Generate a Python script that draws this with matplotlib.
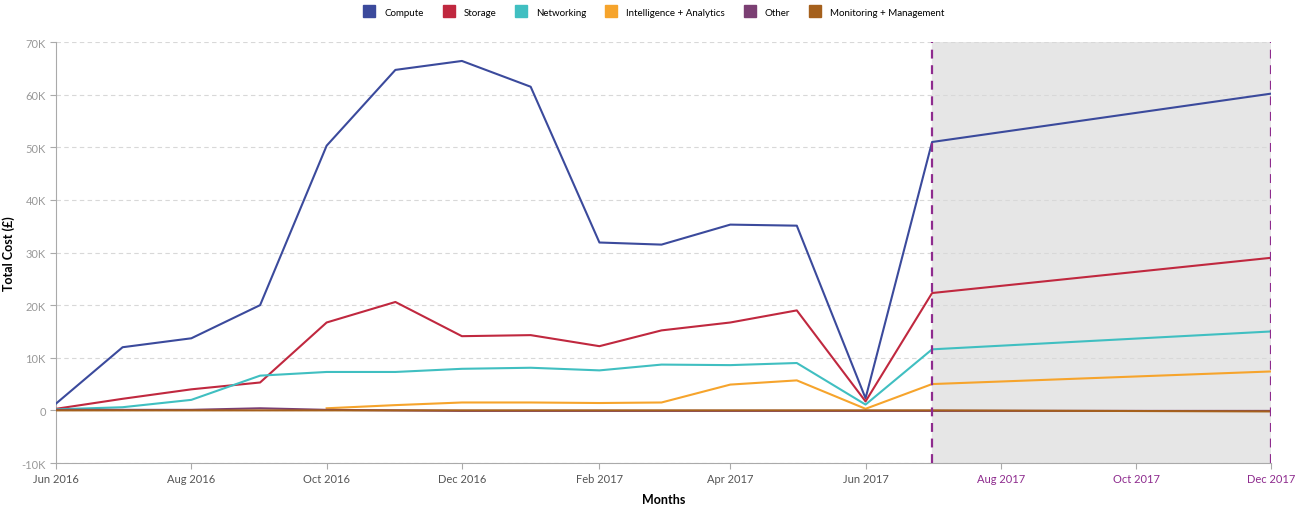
import matplotlib.pyplot as plt
import matplotlib.dates as mdates
import matplotlib.ticker as mticker
import numpy as np
from datetime import datetime

plt.rcParams['font.family'] = ['Lato', 'DejaVu Sans']

# months Jun 2016 .. Jul 2017, then forecast end Dec 2017
months = ["2016-06", "2016-07", "2016-08", "2016-09", "2016-10", "2016-11",
          "2016-12", "2017-01", "2017-02", "2017-03", "2017-04", "2017-05",
          "2017-06", "2017-07", "2017-12"]

compute = [1.3, 12.0, 13.7, 20.0, 50.3, 64.7, 66.4, 61.5, 31.9, 31.5, 35.3, 35.1, 2.3, 51.0, 60.2]
storage = [0.3, 2.2, 4.0, 5.3, 16.7, 20.6, 14.1, 14.3, 12.2, 15.2, 16.7, 19.0, 1.7, 22.3, 29.0]
networking = [0.2, 0.6, 2.0, 6.6, 7.3, 7.3, 7.9, 8.1, 7.6, 8.7, 8.6, 9.0, 1.1, 11.6, 15.0]
intelligence = [None, None, None, None, 0.4, 1.0, 1.5, 1.5, 1.4, 1.5, 4.9, 5.7, 0.3, 5.0, 7.4]
other = [0.1, 0.1, 0.1, 0.4, 0.1, 0.0, -0.1, -0.1, -0.1, -0.1, -0.1, -0.1, -0.1, -0.1, -0.1]
monitoring = [0.0, 0.0, 0.0, 0.0, 0.0, 0.0, 0.0, 0.0, 0.0, 0.0, 0.0, 0.0, 0.0, 0.0, -0.2]

series_names = ["Compute", "Storage", "Networking", "Intelligence + Analytics",
                "Other", "Monitoring + Management"]
series_colors = ["#3b4a9c", "#c0283f", "#40bfc1", "#f6a42c", "#7b3f73", "#a5601c"]

forecast_start = "2017-07"
forecast_end = "2017-12"

dates = [datetime.strptime(m, "%Y-%m") for m in months]
fs = datetime.strptime(forecast_start, "%Y-%m")
fe = datetime.strptime(forecast_end, "%Y-%m")

fig = plt.figure(figsize=(13.04, 5.06), dpi=100)
ax = fig.add_axes([0.043, 0.083, 0.932, 0.832])

# forecast band
ax.axvspan(fs, fe, color="#e6e6e6", zorder=0)
for d in (fs, fe):
    ax.axvline(d, color="#8e2b8e", linestyle=(0, (4, 3)), linewidth=1.6, zorder=4)

all_series = [compute, storage, networking, intelligence, other, monitoring]
for name, vals, col in zip(series_names, all_series, series_colors):
    y = np.array([np.nan if v is None else v * 1000 for v in vals])
    ax.plot(dates, y, color=col, linewidth=1.5, label=name, zorder=3)

ax.set_ylim(-10000, 70000)
ax.set_xlim(dates[0], fe)
ax.yaxis.set_major_locator(mticker.MultipleLocator(10000))
ax.yaxis.set_major_formatter(mticker.FuncFormatter(
    lambda v, p: "0" if v == 0 else f"{int(v / 1000)}K"))
ax.grid(axis="y", color="#d8d8d8", linestyle=(0, (4, 3)), linewidth=0.8, zorder=1)

ax.xaxis.set_major_locator(mdates.MonthLocator(bymonth=[2, 4, 6, 8, 10, 12]))
ax.xaxis.set_major_formatter(mdates.DateFormatter("%b %Y"))

for s in ("top", "right"):
    ax.spines[s].set_visible(False)
for s in ("left", "bottom"):
    ax.spines[s].set_color("#aaaaaa")
ax.tick_params(axis="both", colors="#aaaaaa", labelsize=8, length=4)
ax.tick_params(axis="x", labelcolor="#555555")
ax.tick_params(axis="y", labelcolor="#999999")

for lbl, loc in zip(ax.get_xticklabels(), ax.get_xticks()):
    if mdates.num2date(loc).replace(tzinfo=None) > fs:
        lbl.set_color("#8e2b8e")

ax.set_ylabel("Total Cost (£)", fontsize=9, fontweight="bold")
ax.yaxis.set_label_coords(-0.034, 0.5)
ax.set_xlabel("Months", fontsize=9, fontweight="bold")
ax.xaxis.set_label_coords(0.5, -0.072)

handles = [plt.Line2D([], [], marker="s", linestyle="", markersize=9,
                      color=c) for c in series_colors]
fig.legend(handles, series_names, loc="upper center", ncol=6, frameon=False,
           fontsize=7, bbox_to_anchor=(0.5, 1.0), handletextpad=0.5,
           columnspacing=1.6)

plt.savefig("out.png", dpi=100)
